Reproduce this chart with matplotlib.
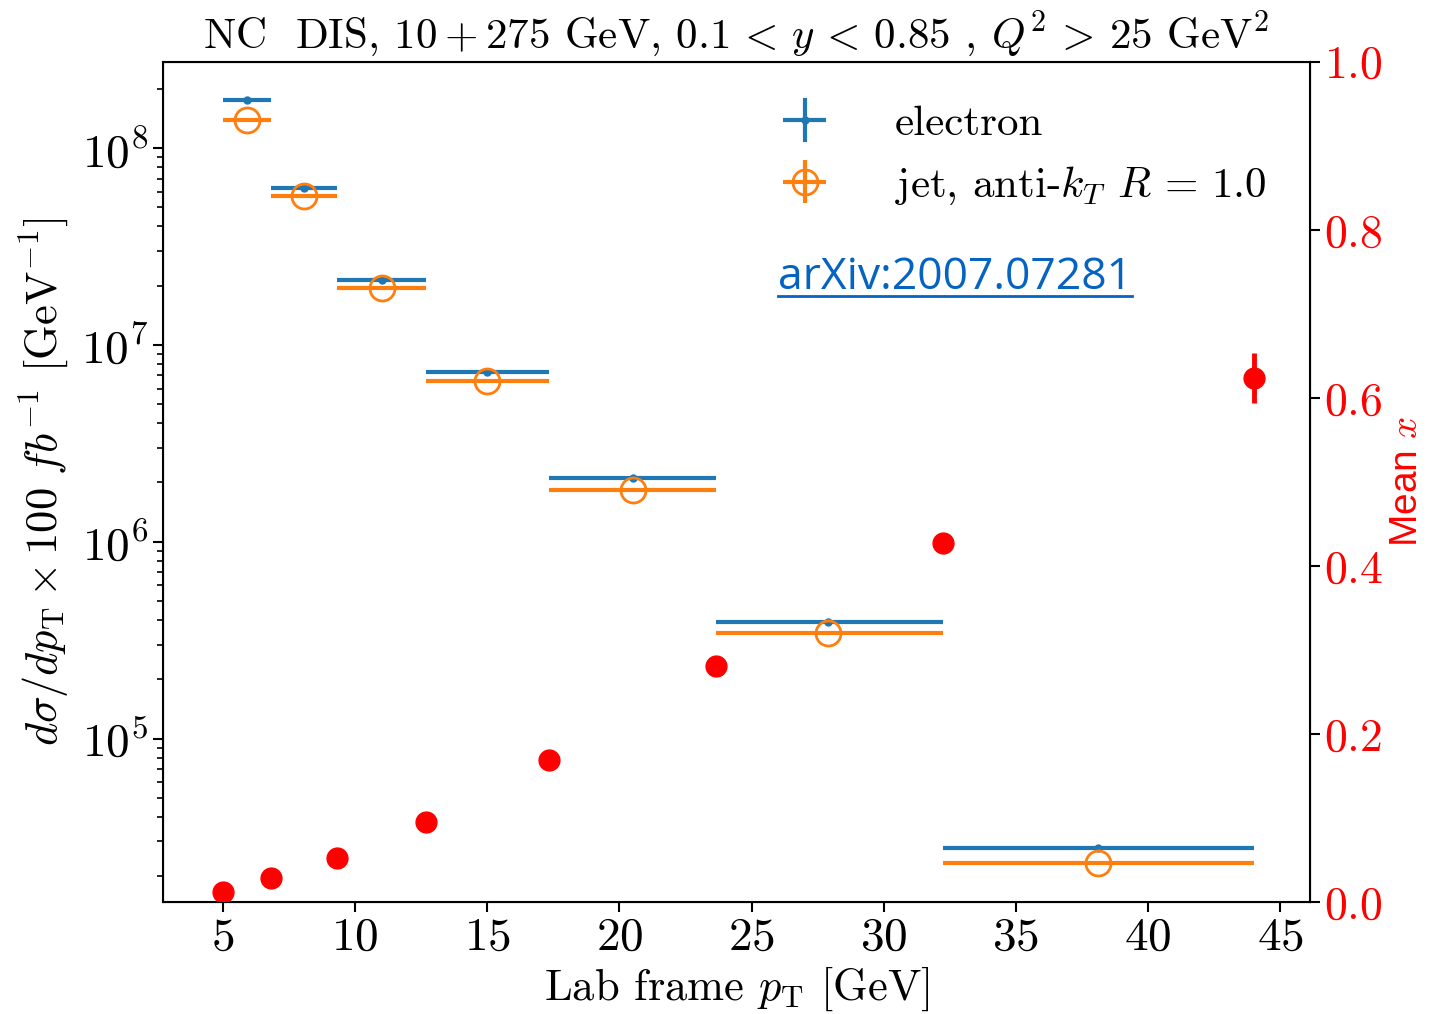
import matplotlib
matplotlib.use("Agg")
import matplotlib.pyplot as plt
from matplotlib.lines import Line2D

plt.rcParams["font.family"] = "serif"
plt.rcParams["font.serif"] = ["cmr10"]
plt.rcParams["mathtext.fontset"] = "cm"
plt.rcParams["axes.formatter.use_mathtext"] = True

# bin edges and centres in lab frame pT [GeV]
pt_edges = [5.0, 6.82, 9.31, 12.70, 17.33, 23.64, 32.25, 44.0]
pt_centers = [5.91, 8.07, 11.0, 15.0, 20.5, 27.9, 38.1]

# cross sections (x 100 fb^-1)
xs_electron = [1.75e8, 6.27e7, 2.14e7, 7.3e6, 2.11e6, 3.89e5, 2.79e4]
xs_electron_err = [2.0e6, 6.0e5, 2.0e5, 7.0e4, 2.0e4, 4.0e3, 3.0e2]
xs_jet = [1.39e8, 5.7e7, 1.95e7, 6.56e6, 1.84e6, 3.42e5, 2.34e4]
xs_jet_err = [1.8e6, 5.5e5, 2.0e5, 6.5e4, 1.8e4, 3.5e3, 2.5e2]

# mean x per pT edge (right axis)
mean_x = [0.013, 0.029, 0.053, 0.096, 0.170, 0.281, 0.428, 0.624]
mean_x_err = [0.001, 0.001, 0.002, 0.002, 0.003, 0.005, 0.008, 0.030]

# asymmetric horizontal errors = bin widths
xlo = [c - lo for c, lo in zip(pt_centers, pt_edges[:-1])]
xhi = [hi - c for c, hi in zip(pt_centers, pt_edges[1:])]

fig = plt.figure(figsize=(14.3, 10.14), dpi=100)
ax = fig.add_axes([0.114, 0.110, 0.802, 0.829])

ax.errorbar(pt_centers, xs_electron, xerr=[xlo, xhi], yerr=xs_electron_err,
            fmt=".", color="C0", ms=10, elinewidth=3, label="electron")
ax.errorbar(pt_centers, xs_jet, xerr=[xlo, xhi], yerr=xs_jet_err,
            fmt="o", color="C1", mfc="none", ms=18, mew=2, elinewidth=3,
            label=r"jet, anti-$k_T$ $R\,=\,1.0$")

ax.set_yscale("log")
ax.set_xlim(2.73, 46.13)
ax.set_ylim(1.47e4, 2.74e8)
ax.set_xticks([5, 10, 15, 20, 25, 30, 35, 40, 45])
ax.tick_params(labelsize=34, width=1.5, length=7)
ax.tick_params(which="minor", width=1.2, length=4)
ax.set_xlabel(r"Lab frame $p_{\rm T}$ [GeV]", fontsize=32, labelpad=4)
ax.set_ylabel(r"$d\sigma/dp_{\rm T} \times 100\ fb^{-1}$ [GeV$^{-1}$]",
              fontsize=32, labelpad=8)
ax.set_title(r"NC  DIS, $10+275$ GeV, $0.1\,<\,y\,<\,0.85$ , $Q^2\,>\,25$ GeV$^2$",
             fontsize=31, pad=10)
for s in ax.spines.values():
    s.set_linewidth(1.5)

leg = ax.legend(loc="upper right", frameon=False, fontsize=31,
                handlelength=1.2, handletextpad=1.5, borderaxespad=0.6)

ax2 = ax.twinx()
ax2.errorbar(pt_edges, mean_x, yerr=mean_x_err, fmt="o", color="red",
             ms=15, elinewidth=3.5)
ax2.set_ylim(0, 1.0)
ax2.set_yticks([0.0, 0.2, 0.4, 0.6, 0.8, 1.0])
ax2.tick_params(labelsize=33, labelcolor="red", width=1.5, length=7)
ax2.set_ylabel(r"Mean $x$", color="red", fontsize=28,
               fontfamily="Liberation Sans", labelpad=4)

t = fig.text(0.544, 0.726, "arXiv:2007.07281", fontsize=32,
             fontfamily="Open Sans", color="#0563C1", va="center")
fig.canvas.draw()
bb = t.get_window_extent().transformed(fig.transFigure.inverted())
fig.add_artist(Line2D([bb.x0, bb.x1], [bb.y0 + 0.004, bb.y0 + 0.004],
                      transform=fig.transFigure, color="#0563C1", lw=2))

fig.savefig("out.png", dpi=100)
